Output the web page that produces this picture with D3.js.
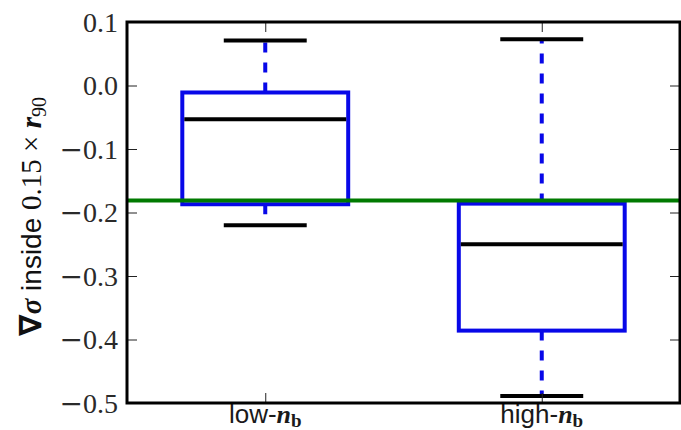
<!DOCTYPE html>
<html>
<head>
<meta charset="utf-8">
<script src="https://cdn.jsdelivr.net/npm/d3@7"></script>
<style>
  html, body { margin: 0; padding: 0; background: #fff; }
  svg { display: block; }
</style>
</head>
<body>
<svg id="chart" width="681" height="430"></svg>
<script>
// ---- data ----
const categories = ["low", "high"];
const positions = [1, 2];
const whiskerLow = [-0.220, -0.489];
const q1 = [-0.187, -0.386];
const medians = [-0.053, -0.250];
const q3 = [-0.011, -0.186];
const whiskerHigh = [0.071, 0.073];
const refValue = -0.181;
const yTicks = [0.1, 0.0, -0.1, -0.2, -0.3, -0.4, -0.5];
const yTickLabels = ["0.1", "0.0", "\u22120.1", "\u22120.2", "\u22120.3", "\u22120.4", "\u22120.5"];

(function () {
// ---- layout ----
const mLeft = 127, mRight = 680, mTop = 22, mBottom = 403;
const svg = d3.select("#chart");

const x = d3.scaleLinear().domain([0.5, 2.5]).range([mLeft, mRight]);
const y = d3.scaleLinear().domain([-0.5, 0.1]).range([mBottom, mTop]);

const boxW = 0.6, capW = 0.3;
const blue = "#0808e8", green = "#007a00";

const g = svg.append("g");

// whiskers (dashed, from box edge to cap)
categories.forEach((c, i) => {
  const px = x(positions[i]);
  g.append("line").attr("x1", px).attr("x2", px)
    .attr("y1", y(q3[i])).attr("y2", y(whiskerHigh[i]))
    .attr("stroke", blue).attr("stroke-width", 4).attr("stroke-dasharray", "10,10");
  g.append("line").attr("x1", px).attr("x2", px)
    .attr("y1", y(q1[i])).attr("y2", y(whiskerLow[i]))
    .attr("stroke", blue).attr("stroke-width", 4).attr("stroke-dasharray", "10,10");
});

// boxes
g.selectAll("rect.box").data(categories).join("rect")
  .attr("class", "box")
  .attr("x", (d, i) => x(positions[i] - boxW / 2))
  .attr("width", (d, i) => x(positions[i] + boxW / 2) - x(positions[i] - boxW / 2))
  .attr("y", (d, i) => y(q3[i]))
  .attr("height", (d, i) => y(q1[i]) - y(q3[i]))
  .attr("fill", "none").attr("stroke", blue).attr("stroke-width", 4);

// caps
categories.forEach((c, i) => {
  [whiskerHigh[i], whiskerLow[i]].forEach(v => {
    g.append("line")
      .attr("x1", x(positions[i] - capW / 2)).attr("x2", x(positions[i] + capW / 2))
      .attr("y1", y(v)).attr("y2", y(v))
      .attr("stroke", "#000").attr("stroke-width", 4);
  });
});

// medians
g.selectAll("line.med").data(categories).join("line")
  .attr("class", "med")
  .attr("x1", (d, i) => x(positions[i] - boxW / 2) + 2)
  .attr("x2", (d, i) => x(positions[i] + boxW / 2) - 2)
  .attr("y1", (d, i) => y(medians[i])).attr("y2", (d, i) => y(medians[i]))
  .attr("stroke", "#000").attr("stroke-width", 4);

// reference line
g.append("line").attr("x1", mLeft).attr("x2", mRight)
  .attr("y1", y(refValue)).attr("y2", y(refValue))
  .attr("stroke", green).attr("stroke-width", 4);

// ---- axes ----
const tickLen = 10;
const axL = svg.append("g").attr("transform", `translate(${mLeft},0)`)
  .call(d3.axisLeft(y).tickValues(yTicks).tickSize(-tickLen).tickPadding(0).tickFormat(""));
axL.select(".domain").remove();
axL.selectAll(".tick line").attr("stroke", "#222").attr("stroke-width", 1);
axL.selectAll(".tick text").each(function (d, i) {
  const t = d3.select(this)
    .attr("x", -9).attr("dy", "0.33em")
    .style("font-family", "'Liberation Serif', 'Times New Roman', serif")
    .style("font-size", "28px").attr("fill", "#2a2a2a");
  const s = yTickLabels[i];
  if (s.startsWith("\u2212")) {
    t.append("tspan").text("\u2212").style("font-family", "'DejaVu Serif', serif").style("font-weight", "300");
    t.append("tspan").text(s.slice(1));
  } else {
    t.append("tspan").text(s);
  }
});

const axR = svg.append("g").attr("transform", `translate(${mRight},0)`)
  .call(d3.axisRight(y).tickValues(yTicks).tickSize(-tickLen).tickFormat(""));
axR.select(".domain").remove();
axR.selectAll(".tick line").attr("stroke", "#222").attr("stroke-width", 1);

const axT = svg.append("g").attr("transform", `translate(0,${mTop})`)
  .call(d3.axisTop(x).tickValues(positions).tickSize(-tickLen).tickFormat(""));
axT.select(".domain").remove();
axT.selectAll(".tick line").attr("stroke", "#222").attr("stroke-width", 1);

const axB = svg.append("g").attr("transform", `translate(0,${mBottom})`)
  .call(d3.axisBottom(x).tickValues(positions).tickSize(-tickLen).tickFormat(""));
axB.select(".domain").remove();
axB.selectAll(".tick line").attr("stroke", "#222").attr("stroke-width", 1);

// x tick labels
categories.forEach((c, i) => {
  const t = svg.append("text")
    .attr("x", x(positions[i])).attr("y", 423)
    .attr("text-anchor", "middle")
    .style("font-family", "'Liberation Sans', Arial, sans-serif")
    .style("font-size", "26px").attr("fill", "#1a1a1a");
  t.append("tspan").text(c + "-");
  t.append("tspan").text("n")
    .style("font-family", "'Liberation Serif', serif").style("font-style", "italic").style("font-weight", "bold");
  t.append("tspan").text("b").attr("dy", "0.22em")
    .style("font-family", "'Liberation Serif', serif").style("font-weight", "bold").style("font-size", "19px");
});

// frame
svg.append("rect")
  .attr("x", mLeft).attr("y", mTop)
  .attr("width", mRight - mLeft).attr("height", mBottom - mTop)
  .attr("fill", "none").attr("stroke", "#000").attr("stroke-width", 3);

// y label
const yl = svg.append("text")
  .attr("transform", `translate(41,${(88 + 345) / 2}) rotate(-90)`)
  .attr("text-anchor", "middle")
  .style("font-family", "'Liberation Sans', Arial, sans-serif")
  .style("font-size", "28px").attr("fill", "#111");
yl.append("tspan").text("\u2207").style("font-family", "'DejaVu Sans', sans-serif").style("font-weight", "bold").style("font-size", "31px");
yl.append("tspan").text("\u03C3").style("font-family", "'Liberation Serif', serif").style("font-style", "italic").style("font-weight", "bold").style("font-size", "29px");
yl.append("tspan").text(" inside ");
yl.append("tspan").text("0.15 \u00D7 ").style("font-family", "'Liberation Serif', serif").style("font-size", "29px");
yl.append("tspan").text("r").style("font-family", "'Liberation Serif', serif").style("font-style", "italic").style("font-weight", "bold").style("font-size", "29px");
yl.append("tspan").text("90").attr("dy", "0.25em").style("font-family", "'Liberation Serif', serif").style("font-size", "20px");
})();
</script>
</body>
</html>
